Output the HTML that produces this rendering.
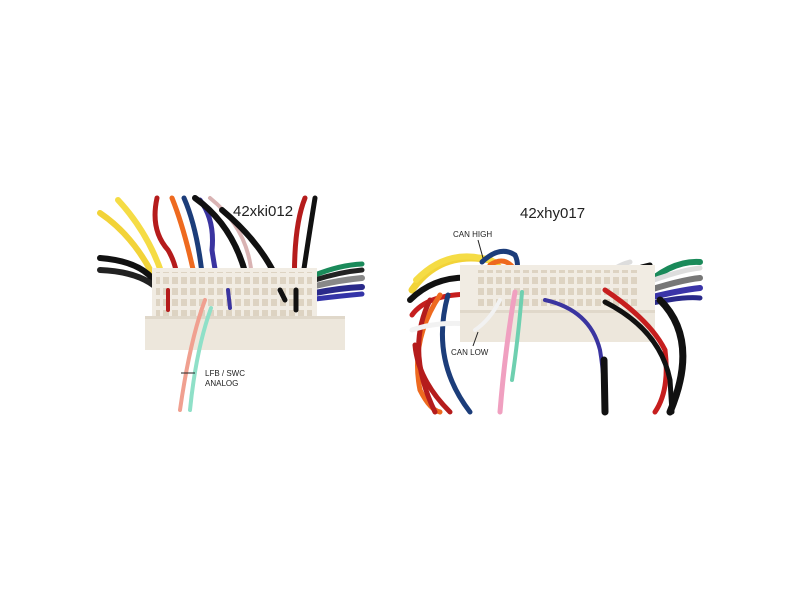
<!DOCTYPE html>
<html><head><meta charset="utf-8"><style>
html,body{margin:0;padding:0;background:#fff;width:800px;height:600px;overflow:hidden}
svg{display:block}
text{font-family:"Liberation Sans",sans-serif}
</style></head><body>
<svg width="800" height="600" viewBox="0 0 800 600" xmlns="http://www.w3.org/2000/svg">
<defs>
<pattern id="cav" x="0" y="0" width="9" height="11" patternUnits="userSpaceOnUse">
<rect x="1" y="2" width="6" height="7" fill="#ddd3c2"/>
</pattern>
</defs>
<rect width="800" height="600" fill="#fff"/>
<g fill="none" stroke-linecap="round" stroke-width="5">
<path d="M100 213 Q140 240 162 295" stroke="#f2d338" stroke-width="6"/>
<path d="M118 200 Q155 240 168 295" stroke="#f5dc45" stroke-width="6"/>
<path d="M100 258 Q150 262 160 292" stroke="#111" stroke-width="6"/>
<path d="M100 270 Q148 272 165 297" stroke="#222" stroke-width="6"/>
<path d="M157 198 Q150 230 168 250 Q180 270 178 300" stroke="#b51c1c"/>
<path d="M172 198 Q185 230 196 283" stroke="#ee6a1f"/>
<path d="M184 198 Q198 230 203 283" stroke="#1c3d7a"/>
<path d="M200 200 Q215 220 212 250 Q216 280 225 310" stroke="#3a34a0"/>
<path d="M195 198 Q240 230 250 295" stroke="#111" stroke-width="6"/>
<path d="M210 198 Q250 230 252 280" stroke="#d9b3b3" stroke-width="4"/>
<path d="M222 210 Q270 250 285 300" stroke="#111" stroke-width="6"/>
<path d="M305 198 Q292 230 295 300" stroke="#b51c1c"/>
<path d="M315 198 Q305 260 298 310" stroke="#111"/>
<path d="M315 275 Q340 265 362 264" stroke="#1a8a5a" stroke-width="5"/>
<path d="M315 280 Q340 272 362 270" stroke="#222" stroke-width="5"/>
<path d="M315 286 Q340 280 362 278" stroke="#888" stroke-width="6"/>
<path d="M315 293 Q340 288 362 287" stroke="#2a2a8a" stroke-width="6"/>
<path d="M315 299 Q340 296 362 294" stroke="#3434a8" stroke-width="5"/>
</g>
<rect x="152" y="268" width="165" height="58" fill="#f1ece3"/>
<rect x="156" y="272" width="156" height="44" fill="url(#cav)"/>
<rect x="145" y="318" width="200" height="32" fill="#ede7dc"/>
<rect x="145" y="316" width="200" height="3" fill="#e0d8ca"/>
<g fill="none" stroke-linecap="round" stroke-width="4">
<path d="M205 300 Q190 340 180 410" stroke="#f0a090"/>
<path d="M211 308 Q196 350 190 410" stroke="#8fe0c8"/>
<path d="M168 290 L168 310" stroke="#b51c1c"/>
<path d="M228 290 L230 308" stroke="#3a34a0"/>
<path d="M296 290 L296 310" stroke="#111" stroke-width="5"/>
<path d="M280 290 L285 300" stroke="#111" stroke-width="5"/>
</g>
<text x="233" y="216" font-size="15" fill="#222">42xki012</text>
<path d="M181 373 L195 373" stroke="#222" stroke-width="1"/>
<text x="205" y="376" font-size="8" fill="#222">LFB / SWC</text>
<text x="205" y="386" font-size="8" fill="#222">ANALOG</text>

<g fill="none" stroke-linecap="round" stroke-width="5">
<path d="M412 290 Q440 250 490 260 Q505 270 510 285" stroke="#f2d338" stroke-width="7"/>
<path d="M416 280 Q450 245 495 262" stroke="#f5dc45" stroke-width="6"/>
<path d="M410 300 Q440 270 490 280" stroke="#111" stroke-width="6"/>
<path d="M482 262 Q500 245 515 255 Q520 265 515 280" stroke="#1c3d7a"/>
<path d="M490 265 Q505 255 515 270" stroke="#ee6a1f"/>
<path d="M412 315 Q430 290 490 295" stroke="#c61e1e"/>
<path d="M440 295 Q410 340 420 390 Q430 410 440 412" stroke="#ee6a1f"/>
<path d="M430 300 Q405 350 435 412" stroke="#b51c1c"/>
<path d="M448 295 Q430 360 470 412" stroke="#1c3d7a"/>
<path d="M412 330 Q440 320 480 325 Q495 310 500 300" stroke="#f2f2f2" stroke-width="5"/>
<path d="M415 345 Q418 380 450 412" stroke="#b51c1c"/>
<path d="M600 300 Q600 270 630 262" stroke="#ddd"/>
<path d="M605 300 Q615 272 650 265" stroke="#111"/>
<path d="M640 290 Q670 260 700 262" stroke="#1a8a5a" stroke-width="6"/>
<path d="M640 285 Q680 270 700 268" stroke="#ddd" stroke-width="5"/>
<path d="M640 293 Q680 280 700 278" stroke="#777" stroke-width="6"/>
<path d="M640 300 Q680 290 700 288" stroke="#3a34a8" stroke-width="6"/>
<path d="M640 306 Q680 296 700 298" stroke="#2a2a8a" stroke-width="5"/>
<path d="M660 300 Q700 340 670 412" stroke="#111" stroke-width="7"/>
</g>
<rect x="460" y="265" width="195" height="50" fill="#f1ece3"/>
<rect x="478" y="270" width="162" height="40" fill="url(#cav)"/>
<rect x="460" y="312" width="195" height="30" fill="#ede7dc"/>
<rect x="460" y="310" width="195" height="3" fill="#e0d8ca"/>
<g fill="none" stroke-linecap="round" stroke-width="5">
<path d="M515 292 Q505 350 500 412" stroke="#f0a0c0"/>
<path d="M522 292 Q518 340 512 380" stroke="#6fd0b0" stroke-width="4"/>
<path d="M545 300 Q590 310 600 350 Q605 380 604 412" stroke="#3a34a0" stroke-width="4"/>
<path d="M604 360 L605 412" stroke="#111" stroke-width="7"/>
<path d="M605 290 Q650 320 665 350 Q670 390 655 412" stroke="#c61e1e"/>
<path d="M605 302 Q660 330 670 380 L672 412" stroke="#111"/>
<path d="M500 300 Q490 320 475 330" stroke="#f2f2f2" stroke-width="4"/>
</g>
<text x="520" y="218" font-size="15" fill="#222">42xhy017</text>
<text x="453" y="237" font-size="8" fill="#222">CAN HIGH</text>
<path d="M478 240 L483 258" stroke="#222" stroke-width="1"/>
<text x="451" y="355" font-size="8" fill="#222">CAN LOW</text>
<path d="M473 346 L478 332" stroke="#222" stroke-width="1"/>
</svg>
</body></html>
